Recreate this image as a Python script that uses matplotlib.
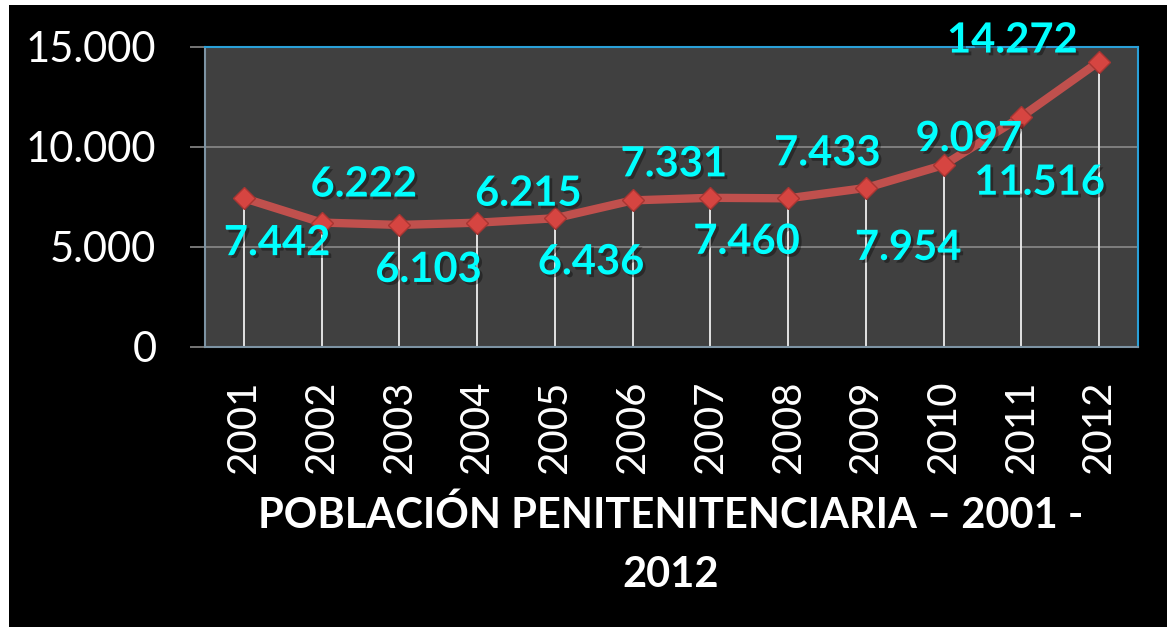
import matplotlib
matplotlib.use("Agg")
import matplotlib.pyplot as plt
import matplotlib.patheffects as pe
from matplotlib.patches import Rectangle
from matplotlib.ticker import FuncFormatter

years = ["2001", "2002", "2003", "2004", "2005", "2006", "2007", "2008", "2009", "2010", "2011", "2012"]
poblacion = [7442, 6222, 6103, 6215, 6436, 7331, 7460, 7433, 7954, 9097, 11516, 14272]
title_text = "POBLACIÓN PENITENITENCIARIA – 2001 -\n2012"
y_ticks = [0, 5000, 10000, 15000]

# label placement offsets in pixels (dx, dy) from each point (layout only)
label_offsets = [(33, -45), (42, 38), (29, -45), (51, 29), (36, -44), (41, 36),
                 (36, -44), (39, 45), (42, -60), (25, 26), (18, -66), (-87, 21)]

plt.rcParams['font.family'] = ['Lato', 'DejaVu Sans']

W, H = 1169, 628
fig = plt.figure(figsize=(W / 100, H / 100), dpi=100, facecolor='white')
fig.patches.append(Rectangle((9 / W, 1 - 627 / H), (1167 - 9) / W, (627 - 5) / H,
                             transform=fig.transFigure, facecolor='black',
                             edgecolor='none', zorder=-10))

ax = fig.add_axes([205 / W, 1 - 347 / H, (1138 - 205) / W, (347 - 47) / H])
ax.set_zorder(1)
ax.set_facecolor('#404040')
x = list(range(len(years)))

ax.set_xlim(-0.5, len(years) - 0.5)
ax.set_ylim(0, 15000)
ax.set_yticks(y_ticks)
ax.yaxis.set_major_formatter(FuncFormatter(lambda v, p: f"{v:,.0f}".replace(",", ".")))
ax.grid(axis='y', color='#8a8a8a', lw=1.2, zorder=1)
ax.set_axisbelow(True)

ax.vlines(x, 0, poblacion, color='#f0f0f0', lw=1.3, zorder=2)
ax.plot(x, poblacion, color='#c0504d', lw=6, zorder=3, solid_capstyle='round')
ax.plot(x, poblacion, linestyle='none', marker='D', ms=11.5,
        markerfacecolor='#d64541', markeredgecolor='#a83532', markeredgewidth=1, zorder=4)

shadow = [pe.SimplePatchShadow(offset=(2, -2), shadow_rgbFace='black', alpha=0.35), pe.Normal()]
for xi, v, (dx, dy) in zip(x, poblacion, label_offsets):
    ax.annotate(f"{v:,}".replace(",", "."), (xi, v), xytext=(dx, dy),
                textcoords='offset pixels', ha='center', va='center',
                color='#00ffff', fontsize=30, fontweight='bold', zorder=5,
                path_effects=shadow, annotation_clip=False)

ax.set_xticks(x)
ax.set_xticklabels(years, rotation=90, color='white', fontsize=29)
ax.tick_params(axis='x', length=0, pad=24)
ax.tick_params(axis='y', length=11, width=1.2, color='#8a8a8a', pad=24,
               labelcolor='white', labelsize=30)

for s in ['top', 'right']:
    ax.spines[s].set_color('#2aa0d8')
    ax.spines[s].set_linewidth(1.5)
for s in ['left', 'bottom']:
    ax.spines[s].set_color('#7d93a3')
    ax.spines[s].set_linewidth(1.5)

fig.text(671 / W, 1 - 495 / H, title_text, ha='center', va='top', color='white',
         fontsize=30, fontweight='bold', linespacing=1.7)

fig.savefig("out.png", dpi=100, facecolor='white')
